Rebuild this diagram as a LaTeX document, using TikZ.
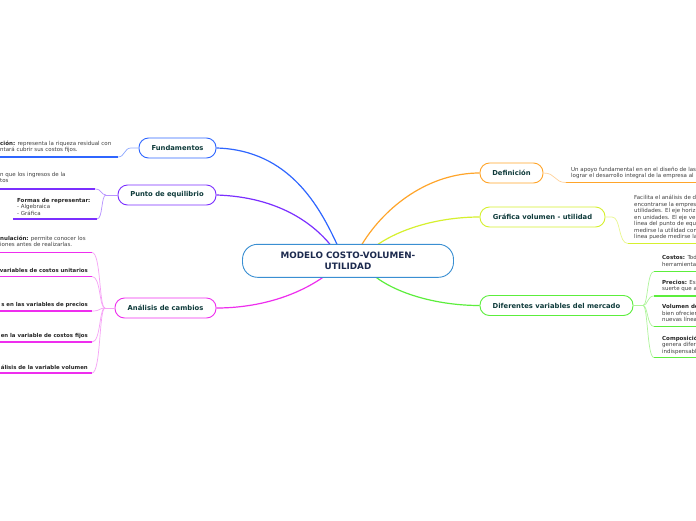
\documentclass[tikz,border=0pt]{standalone}
\usepackage{fontspec}
\setmainfont{DejaVu Sans}
\definecolor{cmain}{HTML}{3A8FD2}
\definecolor{cmaintext}{HTML}{1C2A4E}
\definecolor{nodetext}{HTML}{0F3B3B}
\definecolor{leaftext}{HTML}{404040}
\definecolor{cfund}{HTML}{2F66FF}
\definecolor{cfundl}{HTML}{8EA8FF}
\definecolor{cpunto}{HTML}{7B2FFF}
\definecolor{cpuntol}{HTML}{B792FF}
\definecolor{canal}{HTML}{EE2EEE}
\definecolor{canall}{HTML}{F6A2F6}
\definecolor{cdef}{HTML}{FFA52A}
\definecolor{cdefl}{HTML}{FFD29A}
\definecolor{cgraf}{HTML}{D6F02E}
\definecolor{cgrafl}{HTML}{E9F78E}
\definecolor{cdif}{HTML}{5CEE3C}
\definecolor{cdifl}{HTML}{AEF59A}
\tikzset{
  mainbox/.style={draw=cmain, line width=0.9pt, rounded corners=15pt, minimum width=211pt, minimum height=33pt, inner sep=0pt, align=center, fill=white, text=cmaintext, font=\fontsize{8.8}{11}\selectfont\bfseries},
  branchbox/.style={draw=#1, line width=0.9pt, rounded corners=9.5pt, minimum height=20pt, inner sep=0pt, fill=white, text=nodetext, font=\fontsize{6.8}{8}\selectfont\bfseries},
  leaf/.style={inner sep=0pt, align=left, text=leaftext, font=\fontsize{5.5}{6.5}\selectfont},
  bleaf/.style={inner sep=0pt, text=black!85, font=\fontsize{5.4}{6.5}\selectfont\bfseries},
  trunk/.style={draw=#1, line width=1.2pt},
  twig/.style={draw=#1, line width=0.7pt},
  uline/.style={draw=#1, line width=1.4pt}
}
\begin{document}
\begin{tikzpicture}[x=1pt,y=-1pt]
\useasboundingbox (0,0) rectangle (696,520);
\fill[white] (0,0) rectangle (696,520);
\clip (0,0) rectangle (696,520);

% attachment points on central node
\coordinate (cFund) at (337,244.3);
\coordinate (cPunto) at (330,244.3);
\coordinate (cDef) at (362,244.3);
\coordinate (cGraf) at (378,244.3);
\coordinate (cAnal) at (323,277.3);
\coordinate (cDif) at (376,277.3);

% main branch nodes
\node[branchbox=cfund, minimum width=77pt] (fund) at (177.5,148) {Fundamentos};
\node[branchbox=cpunto, minimum width=98pt] (punto) at (167,195) {Punto de equilibrio};
\node[branchbox=canal, minimum width=101pt] (anal) at (165.5,308) {Análisis de cambios};
\node[branchbox=cdef, minimum width=63pt] (def) at (511.5,173) {Definición};
\node[branchbox=cgraf, minimum width=125pt] (graf) at (542.5,217) {Gráfica volumen - utilidad};
\node[branchbox=cdif, minimum width=153pt] (dif) at (556.5,305.5) {Diferentes variables del mercado};

% trunks
\draw[trunk=cfund] (fund.east) .. controls (290,150) and (320,208) .. (cFund);
\draw[trunk=cpunto] (punto.east) .. controls (280,197) and (314,225) .. (cPunto);
\draw[trunk=cdef] (cDef) .. controls (386,205) and (430,173) .. (def.west);
\draw[trunk=cgraf] (cGraf) .. controls (402,228) and (440,217) .. (graf.west);
\draw[trunk=canal] (cAnal) .. controls (290,300) and (250,308) .. (anal.east);
\draw[trunk=cdif] (cDif) .. controls (400,295) and (440,305.5) .. (dif.west);

\node[mainbox] (c) at (348,260.8) {MODELO COSTO-VOLUMEN-\\UTILIDAD};

% ---- Fundamentos leaf
\node[leaf, anchor=north west] (fl1) at (0,140.5) {\textbf{\color{black!85}ción:} representa la riqueza residual con\\ntará cubrir sus costos fijos.};
\coordinate (fu1a) at (0,157);
\coordinate (fu1b) at (118,157);
\coordinate (fj) at (131,148);
\draw[uline=cfund] (fu1a) -- (fu1b);
\draw[twig=cfundl] (fund.west) -- (fj) .. controls (124,148) and (125,157) .. (fu1b);

% ---- Punto de equilibrio leaves
\node[leaf, anchor=north west] (pl1) at (0,172) {n que los ingresos de la\\tos};
\node[leaf, anchor=north west] (pl2) at (17,198) {\textbf{\color{black!85}Formas de representar:}\\- Algebraica\\- Gráfica};
\coordinate (pu1a) at (0,189);
\coordinate (pu1b) at (95,189);
\coordinate (pu2a) at (13,219);
\coordinate (pu2b) at (97,219);
\coordinate (pj) at (106,195);
\draw[uline=cpunto] (pu1a) -- (pu1b);
\draw[uline=cpunto] (pu2a) -- (pu2b);
\draw[twig=cpuntol] (punto.west) -- (pj);
\draw[twig=cpuntol] (pj) .. controls (101,195) and (102,189) .. (pu1b);
\draw[twig=cpuntol] (pj) .. controls (101,195) and (103,219) .. (pu2b);

% ---- Analisis de cambios leaves
\node[leaf, anchor=north west] (al1) at (0,235.5) {\textbf{\color{black!85}nulación:} permite conocer los\\iones antes de realizarlas.};
\node[bleaf, anchor=east] (al2) at (88,270) {variables de costos unitarios};
\node[bleaf, anchor=east] (al3) at (88,305) {s en las variables de precios};
\node[bleaf, anchor=east] (al4) at (88,336) {en la variable de costos fijos};
\node[bleaf, anchor=east] (al5) at (88,367) {álisis de la variable volumen};
\coordinate (aj) at (105,308);
\foreach \n/\y in {1/252.5,2/276.5,3/311,4/342,5/373}{
  \coordinate (au\n a) at (0,\y);
  \coordinate (au\n b) at (92,\y);
  \draw[uline=canal] (au\n a) -- (au\n b);
  \draw[twig=canall] (aj) .. controls (99,308) and (101,\y) .. (au\n b);
}
\draw[twig=canall] (anal.west) -- (aj);

% ---- Definicion leaf
\node[leaf, anchor=north west] (dl1) at (571,167) {Un apoyo fundamental en en el diseño de las\\lograr el desarrollo integral de la empresa al};
\coordinate (du1a) at (566,182.5);
\coordinate (du1b) at (697,182.5);
\draw[uline=cdef] (du1a) -- (du1b);
\draw[twig=cdefl] (def.east) .. controls (556,173) and (554,182.5) .. (du1a);

% ---- Grafica leaf
\node[leaf, anchor=north west] (gl1) at (634,195) {Facilita el análisis de d\\encontrarse la empres\\utilidades. El eje horiz\\en unidades. El eje ve\\línea del punto de equ\\medirse la utilidad con\\línea puede medirse la};
\coordinate (gu1a) at (628,243.5);
\coordinate (gu1b) at (697,243.5);
\coordinate (gj) at (612,217);
\draw[uline=cgraf] (gu1a) -- (gu1b);
\draw[twig=cgrafl] (graf.east) -- (gj) .. controls (621,217) and (618,243.5) .. (gu1a);

% ---- Diferentes variables leaves
\node[leaf, anchor=north west] (vl1) at (662,255.5) {\textbf{\color{black!85}Costos:} Tod\\herramienta};
\node[leaf, anchor=north west] (vl2) at (662,280) {\textbf{\color{black!85}Precios:} Est\\suerte que a};
\node[leaf, anchor=north west] (vl3) at (662,304.5) {\textbf{\color{black!85}Volumen de}\\bien ofrecier\\nuevas línea};
\node[leaf, anchor=north west] (vl4) at (662,335.5) {\textbf{\color{black!85}Composició}\\genera difer\\indispensabl};
\coordinate (vj) at (643,305.5);
\foreach \n/\y in {1/271.5,2/296,3/326.5,4/357.5}{
  \coordinate (vu\n a) at (654,\y);
  \coordinate (vu\n b) at (697,\y);
  \draw[uline=cdif] (vu\n a) -- (vu\n b);
  \draw[twig=cdifl] (vj) .. controls (648,305.5) and (647,\y) .. (vu\n a);
}
\draw[twig=cdifl] (dif.east) -- (vj);
\end{tikzpicture}
\end{document}
